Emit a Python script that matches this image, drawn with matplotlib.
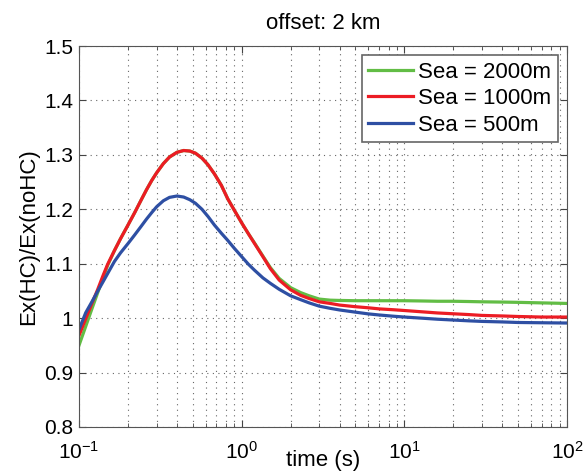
import numpy as np
import matplotlib
matplotlib.use("Agg")
import matplotlib.pyplot as plt
from matplotlib.ticker import FormatStrFormatter, LogLocator

plt.rcParams['font.family'] = ['Liberation Sans', 'DejaVu Sans']
plt.rcParams['mathtext.fontset'] = 'custom'
plt.rcParams['mathtext.rm'] = 'Liberation Sans'
plt.rcParams['mathtext.it'] = 'Liberation Sans:italic'

# values
time = [0.1, 0.11, 0.12, 0.13, 0.14, 0.15, 0.165, 0.18, 0.2, 0.22, 0.24, 0.26,
        0.28, 0.3, 0.33, 0.36, 0.4, 0.44, 0.48, 0.52, 0.57, 0.62, 0.68, 0.75,
        0.82, 0.9, 1.0, 1.1, 1.2, 1.35, 1.5, 1.7, 2.0, 2.3, 2.6, 3.0, 3.5, 4,
        5, 6, 7, 8.5, 10, 13, 16, 20, 25, 30, 40, 50, 70, 100]
sea_2000 = [0.950, 0.985, 1.017, 1.046, 1.073, 1.097, 1.124, 1.146, 1.171, 1.194,
            1.216, 1.236, 1.253, 1.267, 1.284, 1.296, 1.3047, 1.308, 1.307, 1.303,
            1.294, 1.282, 1.265, 1.244, 1.2195, 1.1985, 1.175, 1.155, 1.138, 1.114,
            1.093, 1.073, 1.056, 1.047, 1.041, 1.035, 1.033, 1.0325, 1.032, 1.032,
            1.032, 1.032, 1.032, 1.0315, 1.031, 1.031, 1.0305, 1.030, 1.0295, 1.029,
            1.028, 1.027]
sea_1000 = [0.968, 0.999, 1.027, 1.052, 1.077, 1.099, 1.124, 1.146, 1.171, 1.194,
            1.216, 1.236, 1.253, 1.267, 1.284, 1.296, 1.3047, 1.308, 1.307, 1.303,
            1.294, 1.282, 1.265, 1.244, 1.2195, 1.1985, 1.175, 1.155, 1.137, 1.113,
            1.091, 1.070, 1.052, 1.042, 1.036, 1.030, 1.027, 1.024, 1.021, 1.019,
            1.017, 1.0155, 1.014, 1.0115, 1.0095, 1.008, 1.0065, 1.005, 1.004, 1.003,
            1.002, 1.002]
sea_500 = [0.979, 1.010, 1.030, 1.049, 1.066, 1.082, 1.104, 1.120, 1.137, 1.153,
           1.168, 1.182, 1.194, 1.2046, 1.2157, 1.2219, 1.2244, 1.2225, 1.2176, 1.211,
           1.200, 1.187, 1.171, 1.156, 1.143, 1.1285, 1.113, 1.099, 1.088, 1.074,
           1.064, 1.053, 1.041, 1.034, 1.028, 1.022, 1.018, 1.015, 1.011, 1.0078,
           1.0058, 1.0036, 1.002, 0.9998, 0.998, 0.9965, 0.995, 0.994, 0.993, 0.992,
           0.9915, 0.991]

series = [('Sea = 2000m', sea_2000, '#62bd45'),
          ('Sea = 1000m', sea_1000, '#ec1c24'),
          ('Sea = 500m', sea_500, '#2e4fa3')]

fig = plt.figure(figsize=(5.87, 4.73), dpi=100)
ax = fig.add_axes([0.1346, 0.0973, 0.8314, 0.8054])

for name, vals, col in series:
    ax.plot(time, vals, color=col, lw=2.3, label=name, solid_joinstyle='round')

ax.set_xscale('log')
ax.set_xlim(0.1, 100)
ax.set_ylim(0.8, 1.5)
ax.set_yticks(np.arange(0.8, 1.51, 0.1))
ax.yaxis.set_major_formatter(FormatStrFormatter('%g'))
ax.xaxis.set_minor_locator(LogLocator(base=10, subs=np.arange(2, 10)))

ax.grid(True, which='major', linestyle=(0, (1, 4)), color='#666666', lw=0.8)
ax.grid(True, which='minor', axis='x', linestyle=(0, (1, 4)), color='#666666', lw=0.8)

ax.tick_params(which='both', direction='in', top=True, right=True,
               labelsize=15, color='#444444')
ax.tick_params(which='major', length=5)
ax.tick_params(which='minor', length=3)
ax.tick_params(axis='x', pad=10)
ax.tick_params(axis='y', pad=4)
for s in ax.spines.values():
    s.set_color('#555555')

ax.set_xlabel('time (s)', fontsize=16, labelpad=-9)
ax.set_ylabel('Ex(HC)/Ex(noHC)', fontsize=16, labelpad=4)
ax.set_title('offset: 2 km', fontsize=16, pad=12)

leg = ax.legend(loc='upper right', fontsize=16, fancybox=False, framealpha=1,
                edgecolor='#666666', labelspacing=0.25, handletextpad=0.25,
                borderpad=0.3, handlelength=2.0, borderaxespad=0.4)
leg.get_frame().set_linewidth(1.2)

fig.savefig('out.png', dpi=100)
